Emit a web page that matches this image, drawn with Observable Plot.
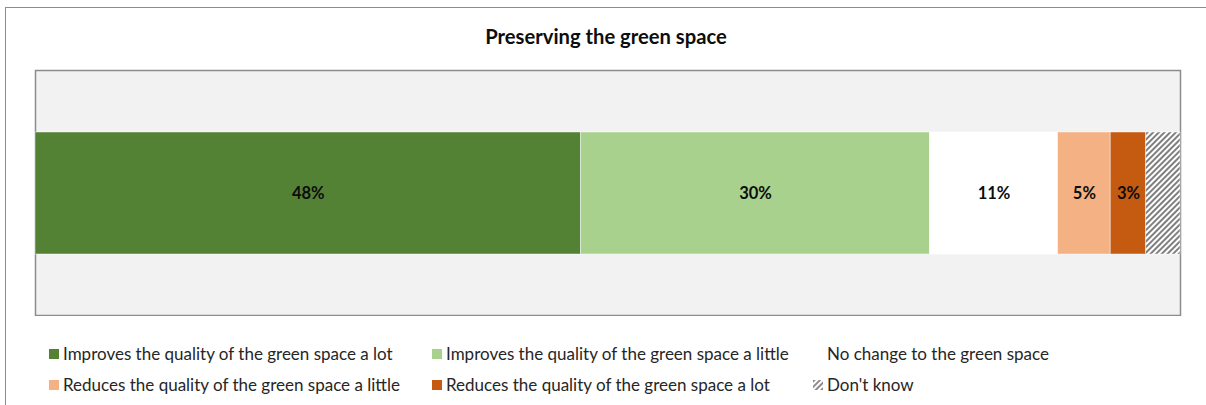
<!DOCTYPE html>
<html>
<head>
<meta charset="utf-8">
<script src="https://cdn.jsdelivr.net/npm/d3@7"></script>
<script src="https://cdn.jsdelivr.net/npm/@observablehq/plot@0.6"></script>
<style>
  html, body { margin: 0; padding: 0; background: #fff; }
  body { width: 1206px; height: 405px; position: relative; overflow: hidden; font-family: Lato, "Noto Sans", sans-serif; color: #262626; }
  #outer { position: absolute; left: 5px; top: 7px; width: 1220px; height: 420px; border: 1.5px solid #8c8c8c; box-sizing: border-box; }
  #title { position: absolute; left: 0; width: 1212px; top: 23px; line-height: 26px; text-align: center; font-weight: bold; font-size: 20.2px; color: #0d0d0d; }
  #chart { position: absolute; left: 0; top: 0; }
  .leg { position: absolute; font-size: 17px; white-space: nowrap; line-height: 22px; }
  .sw { position: absolute; width: 10px; height: 10px; }
</style>
</head>
<body>
<div id="outer"></div>
<div id="title"></div>
<div id="chart"></div>
<div id="legend"></div>
<script>
const title = "Preserving the green space";
const question = ["Preserving the green space"];
const categories = [
  "Improves the quality of the green space a lot",
  "Improves the quality of the green space a little",
  "No change to the green space",
  "Reduces the quality of the green space a little",
  "Reduces the quality of the green space a lot",
  "Don't know"
];
const values = [47.7, 30.5, 11.2, 4.6, 3.1, 3.0];
const labels = ["48%", "30%", "11%", "5%", "3%", ""];
const colors = ["#548235", "#a9d18e", "#ffffff", "#f4b183", "#c55a11", "url(#hatch)"];

const data = categories.map((c, i) => ({q: question[0], category: c, value: values[i], label: labels[i]}));
const total = d3.sum(values);

document.getElementById("title").textContent = title;

const svg = Plot.plot({
  width: 1206,
  height: 316,
  marginLeft: 35,
  marginRight: 26,
  marginTop: 70,
  marginBottom: 1,
  style: {background: "transparent", fontFamily: "Lato, 'Noto Sans', sans-serif"},
  x: {domain: [0, total], axis: null},
  y: {domain: question, axis: null, padding: 0.335},
  color: {domain: categories, range: colors},
  marks: [
    Plot.frame({fill: "#f2f2f2", stroke: "#8c8c8c", strokeWidth: 1.5}),
    Plot.barX(data, Plot.stackX({x: "value", y: "q", fill: "category", order: null, stroke: "#ffffff", strokeWidth: 0.75, strokeOpacity: 0.6})),
    Plot.text(data, Plot.stackX({x: "value", y: "q", text: "label", order: null, fontWeight: "bold", fontSize: 16.5, fill: "#0d0d0d"}))
  ]
});

const ns = "http://www.w3.org/2000/svg";
const defs = document.createElementNS(ns, "defs");
defs.innerHTML = `<pattern id="hatch" patternUnits="userSpaceOnUse" width="4" height="4" patternTransform="rotate(45)">
  <rect width="4" height="4" fill="#ffffff"/><rect width="2" height="4" fill="#7f7f7f"/></pattern>`;
svg.insertBefore(defs, svg.firstChild);
document.getElementById("chart").appendChild(svg);

// legend
const legX = [49, 432, 813];
const legY = [354, 385];
const legend = document.getElementById("legend");
categories.forEach((c, i) => {
  const col = i % 3, row = Math.floor(i / 3);
  const x = legX[col], y = legY[row];
  const sw = document.createElement("div");
  sw.className = "sw";
  sw.style.left = x + "px";
  sw.style.top = (y - 5) + "px";
  if (i === 5) {
    sw.innerHTML = `<svg width="10" height="10" style="display:block"><defs><pattern id="hatch2" patternUnits="userSpaceOnUse" width="4" height="4" patternTransform="rotate(45)"><rect width="4" height="4" fill="#fff"/><rect width="2" height="4" fill="#8c8c8c"/></pattern></defs><rect width="10" height="10" fill="url(#hatch2)"/></svg>`;
  } else {
    sw.style.background = colors[i];
  }
  legend.appendChild(sw);
  const t = document.createElement("div");
  t.className = "leg";
  t.style.left = (x + 14) + "px";
  t.style.top = (y - 11) + "px";
  t.textContent = c;
  legend.appendChild(t);
});
</script>
</body>
</html>
